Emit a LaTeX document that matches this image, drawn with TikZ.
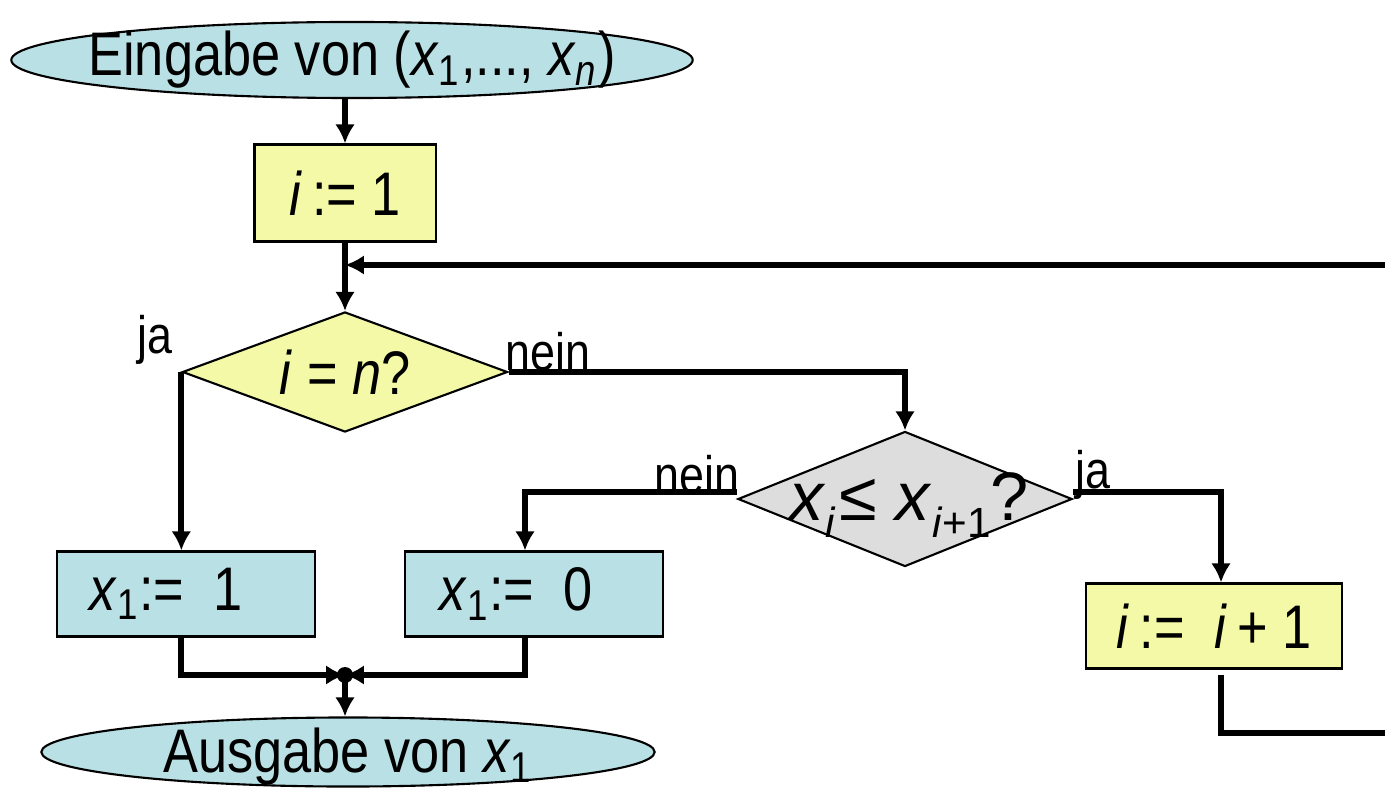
\documentclass[tikz,border=0pt]{standalone}
\usepackage{fontspec}
\setmainfont{Liberation Sans}[FakeStretch=0.85]
\newfontfamily\plainsans{Liberation Sans}
\usetikzlibrary{shapes.geometric,arrows.meta}

\definecolor{boxblue}{RGB}{185,224,228}
\definecolor{boxyellow}{RGB}{243,249,166}
\definecolor{boxgray}{RGB}{221,221,221}

\newcommand{\vx}[1]{\textit{x}\textsubscript{#1}}
\newcommand{\bigsub}[1]{\raisebox{-0.24em}{\fontsize{12}{13}\selectfont #1}}

\begin{document}
\begin{tikzpicture}
    [
        x=0.01cm, y=-0.01cm,
        >={Latex[length=5.4pt,width=5.6pt]},
        flow/.style={->, line width=1.7pt},
        line/.style={line width=1.7pt},
        bigtext/.style={font=\fontsize{17.5}{20}\selectfont, inner sep=0pt},
        terminal/.style={ellipse, draw, line width=0.6pt, fill=boxblue, inner sep=0pt},
        action/.style={rectangle, draw, line width=0.6pt, inner sep=0pt, bigtext},
        test/.style={diamond, draw, line width=0.6pt, inner sep=0pt},
        answer/.style={font=\fontsize{15}{18}\selectfont, inner sep=0pt},
    ]

    \useasboundingbox (0,0) rectangle (1385,788);
    \clip (0,0) rectangle (1385,788);

    % start
    \node (in)   at (352,60)  [terminal, minimum width=6.81cm, minimum height=0.76cm,
        label={[bigtext]center:Eingabe von (\vx{1},..., \vx{\textit{n}})}] {};
    \node (init) at (345,193) [action, fill=boxyellow, minimum width=1.81cm, minimum height=0.97cm]
        {\textit{i}\,:= 1};

    % tests
    \node (test1) at (345,372) [test, fill=boxyellow, minimum width=3.25cm, minimum height=1.2cm,
        label={[bigtext]center:\textit{i} = \textit{n}?}] {};
    \node (test2) at (905,499) [test, fill=boxgray, minimum width=3.34cm, minimum height=1.35cm,
        label={[font=\plainsans\fontsize{19.5}{24}\selectfont, inner sep=0pt, xshift=0.04cm, yshift=-0.06cm]center:\textit{x}\bigsub{\textit{i}}\kern1pt≤ \textit{x}\bigsub{\textit{i}+1}?}] {};

    \node (ja1)   at (155,340) [answer] {ja};
    \node (nein1) at (548,352) [answer] {nein};
    \node (nein2) at (697,475) [answer] {nein};
    \node (ja2)   at (1093,475) [answer] {ja};

    % actions
    \node (set1) at (186,594) [action, fill=boxblue, minimum width=2.58cm, minimum height=0.85cm]
        {\vx{1}:=~~1\hspace*{0.4cm}};
    \node (set0) at (534,594) [action, fill=boxblue, minimum width=2.57cm, minimum height=0.85cm]
        {\vx{1}:=~~0\hspace*{0.36cm}};
    \node (inc)  at (1214,626) [action, fill=boxyellow, minimum width=2.55cm, minimum height=0.85cm]
        {\textit{i}\,:=~~\textit{i}\,+ 1};

    % end
    \node (out) at (348,752) [terminal, minimum width=6.13cm, minimum height=0.69cm,
        label={[bigtext, yshift=-0.05cm]center:Ausgabe von \vx{1}}] {};

    \coordinate (join)  at (345,675);
    \coordinate (loopr) at (1385,265);
    \coordinate (loopb) at (1385,733);

    \path[flow]
    (init.north |- in.south) edge (init)
    (init) edge (test1)
    (join) edge (out.north -| join);

    \draw[flow] (loopr) -- (loopr -| init.south);
    \draw[flow] (test1.west) -- (test1.west |- set1.north);
    \draw[flow] (test1.east) -| (test2.north);
    \draw[flow] ([yshift=0.07cm]test2.west) -| ([xshift=-0.09cm]set0.north);
    \draw[flow] ([yshift=0.07cm]test2.east) -| ([xshift=0.07cm]inc.north);
    \draw[flow] (set1.south -| test1.west) |- (join);
    \draw[flow] ([xshift=-0.09cm]set0.south) |- (join);
    \draw[line] ([xshift=0.07cm, yshift=-0.05cm]inc.south) |- (loopb);
    \fill (join) circle (8);

\end{tikzpicture}
\end{document}
